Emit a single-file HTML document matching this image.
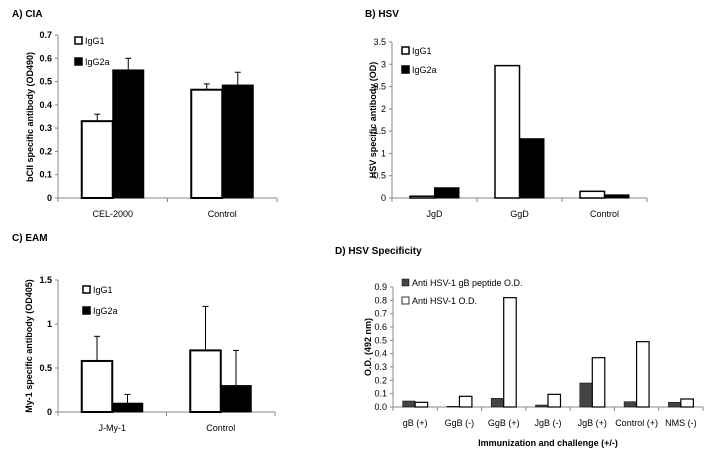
<!DOCTYPE html>
<html><head><meta charset="utf-8"><style>
body{margin:0;background:#fff;}
svg{display:block;font-family:"Liberation Sans",sans-serif;}
</style></head><body>
<svg id="fig" width="711" height="454" viewBox="0 0 711 454" xmlns="http://www.w3.org/2000/svg"></svg>
<script>
// Panel A data
const aCats = ["CEL-2000","Control"];
const aIgG1 = [0.33,0.465];
const aIgG1Err = [0.36,0.49];
const aIgG2a = [0.55,0.485];
const aIgG2aErr = [0.60,0.54];
const aTicks = ["0","0.1","0.2","0.3","0.4","0.5","0.6","0.7"];
// Panel B data
const bCats = ["JgD","GgD","Control"];
const bIgG1 = [0.04,2.97,0.15];
const bIgG2a = [0.23,1.33,0.07];
const bTicks = ["0","0.5","1","1.5","2","2.5","3","3.5"];
// Panel C data
const cCats = ["J-My-1","Control"];
const cIgG1 = [0.58,0.70];
const cIgG1Err = [0.86,1.20];
const cIgG2a = [0.10,0.30];
const cIgG2aErr = [0.20,0.70];
const cTicks = ["0","0.5","1","1.5"];
// Panel D data
const dCats = ["gB (+)","GgB (-)","GgB (+)","JgB (-)","JgB (+)","Control (+)","NMS (-)"];
const dPeptide = [0.045,0.005,0.065,0.015,0.18,0.04,0.035];
const dHSV = [0.035,0.08,0.82,0.095,0.37,0.49,0.06];
const dTicks = ["0.0","0.1","0.2","0.3","0.4","0.5","0.6","0.7","0.8","0.9"];

const svg = document.getElementById('fig');
const NS = 'http://www.w3.org/2000/svg';
function mk(tag, attrs, name, parent){
  const e = document.createElementNS(NS, tag);
  for (const k in attrs) e.setAttribute(k, attrs[k]);
  
  
  (parent||svg).appendChild(e);
  return e;
}
function txt(x,y,s,name,opts){
  opts=opts||{};
  const t = mk('text',{x:x,y:y,'font-size':opts.size||9,'text-anchor':opts.anchor||'middle','font-weight':opts.bold?'bold':'normal',fill:'#000'},name);
  if(opts.rot) t.setAttribute('transform','rotate(-90 '+x+' '+y+')');
  t.textContent=s; return t;
}
function panel(cfg){
  const g = mk('g',{},cfg.name);
  const yS = v => cfg.y0 - (v/cfg.max)*(cfg.y0-cfg.yTop);
  // axes
  mk('line',{x1:cfg.x0,y1:cfg.yTop,x2:cfg.x0,y2:cfg.y0,stroke:'#888','stroke-width':1},'y-axis',g);
  mk('line',{x1:cfg.x0,y1:cfg.y0,x2:cfg.x1,y2:cfg.y0,stroke:'#888','stroke-width':1},'x-axis',g);
  cfg.ticks.forEach((t,i)=>{
    const v = cfg.max*i/(cfg.ticks.length-1);
    const y = yS(v);
    mk('line',{x1:cfg.x0-3,y1:y,x2:cfg.x0,y2:y,stroke:'#888'},'y-tick',g);
    txt(cfg.x0-6,y+3,t,'y-tick-label',{anchor:'end',size:cfg.tickSize||9,bold:cfg.boldTicks});
  });
  const n = cfg.cats.length, cw = (cfg.x1-cfg.x0)/n;
  for(let i=0;i<=n;i++){
    mk('line',{x1:cfg.x0+i*cw,y1:cfg.y0,x2:cfg.x0+i*cw,y2:cfg.y0+4,stroke:'#888'},'x-tick',g);
  }
  cfg.cats.forEach((c,i)=>{
    const cx = cfg.x0+cw*(i+0.5);
    txt(cx,cfg.y0+19,c,'x-tick-label',{size:9});
    cfg.series.forEach((s,j)=>{
      const bx = cx - cfg.bw + j*cfg.bw;
      const y = yS(s.vals[i]);
      if(s.err){
        const ey = yS(s.err[i]);
        mk('line',{x1:bx+cfg.bw/2,y1:ey,x2:bx+cfg.bw/2,y2:y,stroke:'#000','stroke-width':1},'error-bar',g);
        mk('line',{x1:bx+cfg.bw/2-3,y1:ey,x2:bx+cfg.bw/2+3,y2:ey,stroke:'#000','stroke-width':1},'error-cap',g);
      }
      mk('rect',{x:bx,y:y,width:cfg.bw,height:cfg.y0-y,fill:s.fill,stroke:'#000','stroke-width':s.sw},'bar-'+s.key+'-'+i,g);
    });
  });
  // legend
  cfg.series.forEach((s,j)=>{
    const ly = cfg.legY[j];
    mk('rect',{x:cfg.legX,y:ly-6,width:7,height:7,fill:s.fill,stroke:'#000','stroke-width':s.legSw||1.5},'legend-swatch-'+s.key,g);
    txt(cfg.legX+10,ly+1,s.label,'legend-label-'+s.key,{anchor:'start',size:9});
  });
}
// Titles
txt(12,17,'A) CIA','panel-a-title',{anchor:'start',bold:true,size:10});
txt(365,17,'B) HSV','panel-b-title',{anchor:'start',bold:true,size:10});
txt(12,241,'C) EAM','panel-c-title',{anchor:'start',bold:true,size:10});
txt(335,254,'D) HSV Specificity','panel-d-title',{anchor:'start',bold:true,size:10});
// Y titles
txt(33,117,'bCII specific antibody (OD490)','panel-a-y-title',{rot:true,bold:true,size:9});
txt(376,120,'HSV specific antibody (OD)','panel-b-y-title',{rot:true,bold:true,size:9});
txt(32,346,'My-1 specific antibody (OD405)','panel-c-y-title',{rot:true,bold:true,size:9});
txt(371,347,'O.D. (492 nm)','panel-d-y-title',{rot:true,bold:true,size:9});
txt(548,446,'Immunization and challenge (+/-)','panel-d-x-title',{bold:true,size:9});

panel({name:'panel-a',x0:58,x1:277,y0:198,yTop:35,max:0.7,ticks:aTicks,cats:aCats,bw:31,boldTicks:true,
  legX:75,legY:[43,64],
  series:[{key:'igg1',label:'IgG1',vals:aIgG1,err:aIgG1Err,fill:'#fff',sw:2},
          {key:'igg2a',label:'IgG2a',vals:aIgG2a,err:aIgG2aErr,fill:'#000',sw:1}]});
panel({name:'panel-b',x0:392,x1:647,y0:198,yTop:42,max:3.5,ticks:bTicks,cats:bCats,bw:24.5,
  legX:402,legY:[53,72],
  series:[{key:'igg1',label:'IgG1',vals:bIgG1,fill:'#fff',sw:1.5},
          {key:'igg2a',label:'IgG2a',vals:bIgG2a,fill:'#000',sw:1}]});
panel({name:'panel-c',x0:58,x1:275,y0:412,yTop:280,max:1.5,ticks:cTicks,cats:cCats,bw:30.5,boldTicks:true,
  legX:83,legY:[292,313],
  series:[{key:'igg1',label:'IgG1',vals:cIgG1,err:cIgG1Err,fill:'#fff',sw:2},
          {key:'igg2a',label:'IgG2a',vals:cIgG2a,err:cIgG2aErr,fill:'#000',sw:1}]});
panel({name:'panel-d',x0:393,x1:703,y0:407,yTop:287,max:0.9,ticks:dTicks,cats:dCats,bw:12.5,
  legX:402,legY:[285,303],
  series:[{key:'peptide',label:'Anti HSV-1 gB peptide O.D.',vals:dPeptide,fill:'#444',sw:0.5,legSw:0.5},
          {key:'hsv',label:'Anti HSV-1 O.D.',vals:dHSV,fill:'#fff',sw:1.2,legSw:0.8}]});
</script>
</body></html>
